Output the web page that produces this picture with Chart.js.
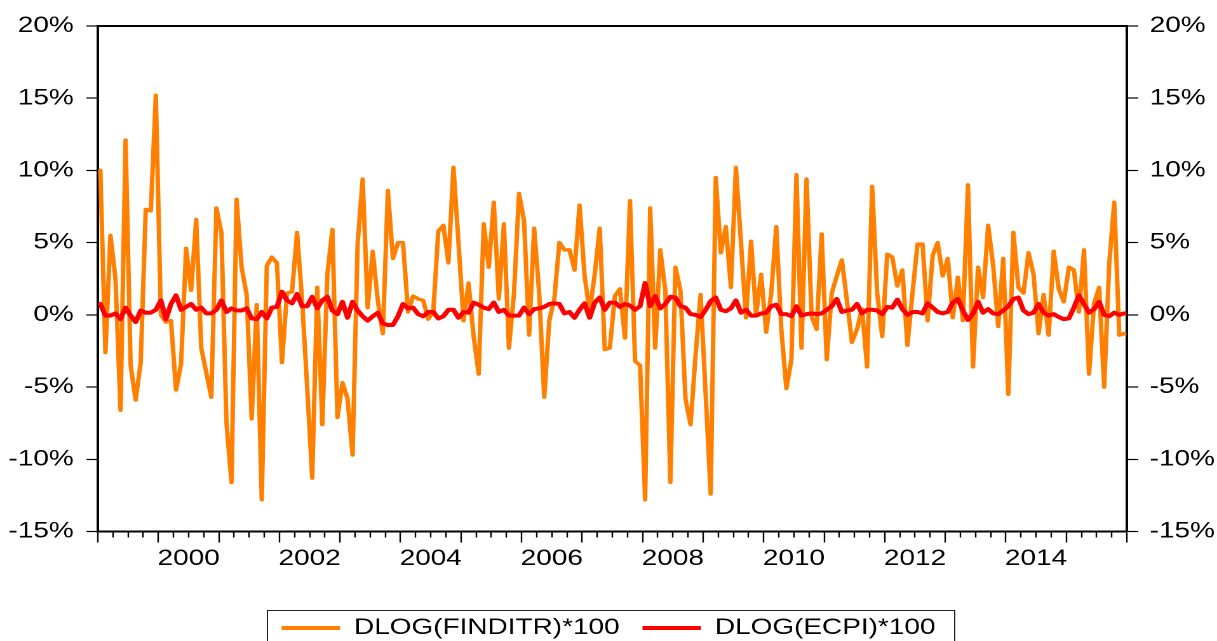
<!DOCTYPE html>
<html>
<head>
<meta charset="utf-8">
<title>DLOG(FINDITR)*100 / DLOG(ECPI)*100</title>
<script src="https://cdn.jsdelivr.net/npm/chart.js@4.4.1/dist/chart.umd.min.js"></script>
<style>
  html, body { margin: 0; padding: 0; background: #fff; overflow: hidden; }
  #wrap { width: 958px; height: 641px; transform: scaleX(1.2704); transform-origin: 0 0; }
</style>
</head>
<body>
<div id="wrap"><canvas id="c" width="958" height="641"></canvas></div>
<script>
// Monthly series, January 1999 through December 2015 (percent, log-difference x 100)
const startYear = 1999;
const yearLabels = ['2000', '2002', '2004', '2006', '2008', '2010', '2012', '2014'];
const yTickValues = [-15, -10, -5, 0, 5, 10, 15, 20];

const finditr = [
  10.0, -2.6, 5.5, 2.5, -6.6, 12.1, -3.5, -5.9, -3.3, 7.3, 7.2, 15.2,
  0.0, -0.5, -0.4, -5.2, -3.4, 4.6, 1.7, 6.6, -2.3, -4.0, -5.7, 7.4,
  5.7, -7.5, -11.6, 8.0, 3.3, 1.4, -7.2, 0.7, -12.8, 3.4, 4.0, 3.6,
  -3.3, 1.5, 1.6, 5.7, 1.0, -5.0, -11.3, 1.9, -7.6, 2.8, 5.9, -7.1,
  -4.7, -5.8, -9.7, 4.9, 9.4, 0.5, 4.4, 1.0, -1.3, 8.6, 3.9, 5.0,
  5.0, 0.2, 1.3, 1.1, 1.0, -0.3, 0.2, 5.8, 6.2, 3.6, 10.2, 5.0,
  -0.4, 2.2, -1.5, -4.1, 6.3, 3.3, 7.8, 1.1, 6.3, -2.3, 1.5, 8.4,
  6.5, -1.4, 6.0, 1.5, -5.7, -0.4, 1.1, 5.0, 4.5, 4.5, 3.1, 7.6,
  2.7, 0.2, 2.8, 6.0, -2.4, -2.3, 1.3, 1.8, -1.6, 7.9, -3.2, -3.5,
  -12.8, 7.4, -2.3, 4.5, 1.7, -11.6, 3.3, 1.7, -5.8, -7.6, -2.8, 1.4,
  -5.5, -12.4, 9.5, 4.3, 6.1, 1.9, 10.2, 5.0, -0.2, 5.1, 0.0, 2.8,
  -1.2, 1.5, 6.1, -1.0, -5.1, -3.1, 9.7, -2.3, 9.4, -0.1, -1.0, 5.6,
  -3.1, 1.5, 2.7, 3.8, 1.0, -1.9, -1.0, 0.4, -3.6, 8.9, 1.5, -1.5,
  4.2, 4.0, 2.0, 3.1, -2.1, 1.5, 4.9, 4.9, -0.4, 4.1, 5.0, 2.7,
  3.9, -0.2, 2.6, -0.4, 9.0, -3.6, 3.3, 1.2, 6.2, 3.4, -0.8, 3.9,
  -5.5, 5.7, 1.9, 1.5, 4.3, 2.8, -1.3, 1.4, -1.4, 4.4, 1.8, 0.9,
  3.3, 3.1, 0.2, 4.5, -4.1, 0.8, 1.9, -5.0, 3.5, 7.8, -1.4, -1.3
];

const ecpi = [
  0.75, -0.05, -0.05, 0.1, -0.3, 0.5, -0.05, -0.5, 0.3, 0.15, 0.15, 0.35,
  1.0, -0.3, 0.75, 1.35, 0.35, 0.55, 0.75, 0.35, 0.5, 0.1, 0.1, 0.35,
  1.0, 0.2, 0.45, 0.3, 0.3, 0.45, -0.25, -0.3, 0.2, -0.25, 0.5, 0.55,
  1.6, 1.0, 0.8, 1.45, 0.6, 0.6, 1.25, 0.45, 1.0, 1.25, 0.3, 0.05,
  0.9, -0.2, 0.9, 0.3, -0.1, -0.4, -0.1, 0.15, -0.6, -0.7, -0.7, -0.1,
  0.75, 0.45, 0.5, 0.05, -0.1, 0.2, 0.2, -0.25, -0.1, 0.35, 0.35, -0.2,
  0.2, 0.15, 0.85, 0.7, 0.5, 0.4, 0.85, 0.2, 0.35, -0.05, -0.05, -0.05,
  0.5, 0.05, 0.4, 0.45, 0.55, 0.75, 0.8, 0.75, 0.1, 0.2, -0.2, 0.35,
  0.8, -0.2, 0.85, 1.2, 0.35, 0.85, 0.85, 0.55, 0.75, 0.65, 0.35, 0.6,
  2.2, 0.6, 1.3, 0.45, 0.75, 1.25, 1.2, 0.6, 0.5, 0.05, 0.0, -0.15,
  0.35, 0.95, 1.2, 0.35, 0.25, 0.45, 1.0, 0.15, 0.35, -0.05, -0.05, 0.1,
  0.15, 0.6, 0.7, 0.05, 0.05, -0.1, 0.6, -0.05, 0.05, 0.1, 0.05, 0.1,
  0.35, 0.6, 1.1, 0.2, 0.3, 0.35, 0.75, 0.1, 0.35, 0.35, 0.3, 0.05,
  0.55, 0.5, 1.05, 0.4, 0.0, 0.2, 0.2, 0.1, 0.8, 0.5, 0.2, 0.1,
  0.2, 0.85, 1.1, 0.3, -0.35, 0.1, 0.9, 0.15, 0.4, 0.1, 0.05, 0.3,
  0.6, 1.1, 1.2, 0.3, 0.05, 0.15, 0.75, 0.15, -0.05, 0.05, -0.15, -0.3,
  -0.25, 0.5, 1.35, 0.75, 0.15, 0.4, 0.9, 0.0, -0.1, 0.15, 0.0, 0.1
];

// Each month is plotted at the middle of its slot on a month-index axis
const toPoints = arr => arr.map((v, i) => ({ x: i + 0.5, y: v }));
const monthCount = finditr.length;

const FONT = '"Liberation Sans", Arial, Helvetica, sans-serif';

// Quarter ticks along the time axis; year boundaries get full-length marks,
// quarter marks are shortened with a dash pattern
function quarterTicks(scale) {
  const ticks = [];
  for (let m = 0; m <= monthCount; m += 3) ticks.push({ value: m });
  scale.ticks = ticks;
}
function yearLabel(value) {
  if (value % 12 !== 6) return '';
  const year = String(startYear + (value - 6) / 12);
  return yearLabels.includes(year) ? year : '';
}

const yAxisCommon = {
  type: 'linear',
  min: -15,
  max: 20,
  afterBuildTicks: s => { s.ticks = yTickValues.map(v => ({ value: v })); },
  ticks: {
    color: '#000',
    font: { family: FONT, size: 22 },
    callback: v => v + '%'
  },
  grid: {
    drawOnChartArea: false,
    drawTicks: true,
    tickLength: 9,
    tickWidth: 1.2,
    tickColor: '#000'
  },
  border: { display: true, color: '#000', width: 2 }
};

// Thin frame drawn round the legend entries
const legendFrame = {
  id: 'legendFrame',
  afterDraw(chart) {
    const lg = chart.legend;
    if (!lg || !lg.legendHitBoxes || !lg.legendHitBoxes.length) return;
    const hb = lg.legendHitBoxes;
    const first = hb[0], last = hb[hb.length - 1];
    const left = first.left - 12;
    const right = last.left + last.width + 14;
    const top = first.top - 7;
    const ctx = chart.ctx;
    ctx.save();
    ctx.strokeStyle = '#222';
    ctx.lineWidth = 1;
    ctx.strokeRect(Math.round(left) + 0.5, Math.round(top) + 0.5, Math.round(right - left), 60);
    ctx.restore();
  }
};

new Chart(document.getElementById('c'), {
  type: 'line',
  data: {
    datasets: [
      {
        label: 'DLOG(FINDITR)*100',
        data: toPoints(finditr),
        borderColor: '#FF8000',
        backgroundColor: '#FF8000',
        borderWidth: 3.5,
        pointRadius: 0,
        tension: 0,
        borderJoinStyle: 'round',
        borderCapStyle: 'round',
        yAxisID: 'y',
        order: 1
      },
      {
        label: 'DLOG(ECPI)*100',
        data: toPoints(ecpi),
        borderColor: '#FF0000',
        backgroundColor: '#FF0000',
        borderWidth: 4,
        pointRadius: 0,
        tension: 0,
        borderJoinStyle: 'round',
        borderCapStyle: 'round',
        yAxisID: 'y',
        order: 0
      }
    ]
  },
  options: {
    responsive: false,
    devicePixelRatio: 2,
    animation: false,
    events: [],
    layout: { padding: { top: 26, bottom: -8, left: 0, right: 0 } },
    scales: {
      x: {
        type: 'linear',
        position: 'bottom',
        min: 0,
        max: monthCount,
        afterBuildTicks: quarterTicks,
        afterFit: s => { s.height = 67.5; },
        ticks: {
          autoSkip: false,
          maxRotation: 0,
          minRotation: 0,
          padding: 3,
          color: '#000',
          font: { family: FONT, size: 22 },
          callback: v => yearLabel(v)
        },
        grid: {
          drawOnChartArea: false,
          drawTicks: true,
          tickLength: 11,
          tickWidth: 1.2,
          tickColor: '#000',
          tickBorderDash: ctx => (ctx.tick && ctx.tick.value % 12 === 0) ? [] : [5, 40]
        },
        border: { display: true, color: '#000', width: 2 }
      },
      xTop: {
        type: 'linear',
        position: 'top',
        min: 0,
        max: monthCount,
        ticks: { display: false },
        grid: { drawOnChartArea: false, drawTicks: false },
        border: { display: true, color: '#000', width: 2 }
      },
      y: Object.assign({}, yAxisCommon, {
        position: 'left',
        afterFit: s => { s.width = 77; },
        ticks: Object.assign({}, yAxisCommon.ticks, { padding: 10 })
      }),
      y2: Object.assign({}, yAxisCommon, {
        position: 'right',
        afterFit: s => { s.width = 71; },
        ticks: Object.assign({}, yAxisCommon.ticks, { padding: 9 })
      })
    },
    plugins: {
      tooltip: { enabled: false },
      legend: {
        display: true,
        position: 'bottom',
        labels: {
          color: '#000',
          font: { family: FONT, size: 22 },
          boxWidth: 46,
          boxHeight: 4,
          padding: 18,
          sort: (a, b) => a.datasetIndex - b.datasetIndex,
          generateLabels: chart => {
            const items = Chart.defaults.plugins.legend.labels.generateLabels(chart);
            items.forEach(it => {
              const ds = chart.data.datasets[it.datasetIndex];
              it.fillStyle = ds.borderColor;
              it.strokeStyle = ds.borderColor;
              it.lineWidth = 0;
            });
            return items;
          }
        }
      }
    }
  },
  plugins: [legendFrame]
});
</script>
</body>
</html>
